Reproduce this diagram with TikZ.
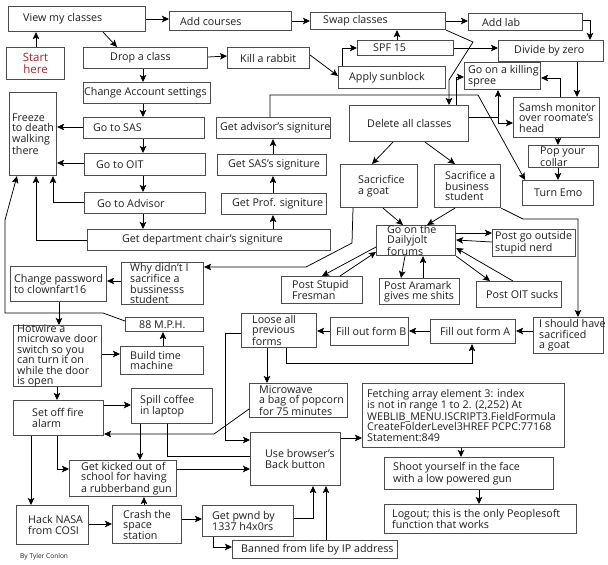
\documentclass[tikz,border=0pt]{standalone}
\usepackage{fontspec}
\setmainfont{Open Sans}
\usetikzlibrary{arrows.meta}
\definecolor{startred}{RGB}{175,32,38}
\tikzset{
  box/.style={draw=black!70, line width=1.1pt, fill=white, inner sep=0pt, rectangle},
  txt/.style={inner sep=0pt, align=left, font=\fontsize{10.7}{10.5}\selectfont, text=black!88},
  arr/.style={draw=black, line width=0.75pt, -{Stealth[length=7pt,width=6.5pt,inset=1.5pt]}},
  ln/.style={draw=black, line width=0.75pt},
}
\newcommand\bx[7]{%
  \pgfmathsetmacro\bxw{#4-#2}\pgfmathsetmacro\bxh{#5-#3}%
  \node[box,minimum width=\bxw pt,minimum height=\bxh pt,anchor=north west] (#1) at (#2,#3) {};%
  \node[txt,anchor=west] (#1-t) at ([xshift=#6pt]#1.west) {#7};}
\begin{document}
\begin{tikzpicture}[x=1pt,y=-1pt]
\useasboundingbox (0,0) rectangle (608,565);
\fill[white] (0,0) rectangle (608,565);
% boxes
\bx{view}{8}{6}{145}{31}{15}{View my classes}
\node[box,minimum width=58pt,minimum height=32pt,anchor=north west] (start) at (6,47) {};
\node[txt,align=center,text=startred,font=\fontsize{11.5}{12}\selectfont] (start-t) at (start.center) {Start\\here};
\bx{addc}{169}{11}{291}{30}{11}{Add courses}
\bx{swap}{310}{12}{445}{29}{13}{Swap classes}
\bx{addlab}{468}{13}{582}{30}{14}{Add lab}
\bx{drop}{83}{47}{207}{68}{27}{Drop a class}
\bx{kill}{227}{47}{309}{68}{13}{Kill a rabbit}
\bx{spf}{357}{40}{453}{55}{16}{SPF 15}
\bx{divide}{498}{40}{603}{61}{16}{Divide by zero}
\bx{apply}{338}{66}{445}{88}{11}{Apply sunblock}
\bx{change}{83}{82}{210}{103}{1}{Change Account settings}
\bx{freeze}{9}{92}{56}{175}{3}{Freeze\\to death\\walking\\there}
\bx{sas}{83}{117}{204}{138}{10}{Go to SAS}
\bx{oit}{84}{153}{205}{175}{12}{Go to OIT}
\bx{adv}{84}{192}{205}{213}{13}{Go to Advisor}
\bx{dept}{87}{229}{330}{250}{35}{Get department chair's signiture}
\bx{advsig}{216}{117}{330}{138}{4}{Get advisor's signiture}
\bx{sassig}{217}{154}{326}{175}{11}{Get SAS's signiture}
\bx{prof}{221}{193}{326}{214}{11}{Get Prof. signiture}
\bx{delete}{349}{105}{468}{141}{18}{Delete all classes}
\bx{spree}{464}{62}{540}{89}{4}{Go on a killing\\spree}
\bx{samsh}{513}{97}{599}{137}{6}{Samsh monitor\\over roomate's\\head}
\bx{pop}{528}{145}{598}{167}{12}{Pop your\\collar}
\bx{emo}{522}{180}{593}{205}{12}{Turn Emo}
\bx{goat}{340}{164}{417}{207}{18}{Sacricfice\\a goat}
\bx{biz}{434}{164}{500}{207}{11}{Sacrifice a\\business\\student}
\bx{jolt}{376}{225}{455}{255}{11}{Go on the\\Dailyjolt\\forums}
\bx{nerd}{492}{229}{575}{256}{3}{Post go outside\\stupid nerd}
\bx{fresh}{281}{276}{362}{303}{11}{Post Stupid\\Fresman}
\bx{aram}{379}{278}{459}{304}{5}{Post Aramark\\gives me shits}
\bx{oitsucks}{476}{281}{561}{307}{10}{Post OIT sucks}
\bx{why}{121}{262}{203}{304}{9}{Why didn't I\\sacrifice a\\bussinesss\\student}
\bx{pwd}{10}{266}{106}{301}{4}{Change password\\to clownfart16}
\bx{mph}{125}{317}{203}{331}{14}{88 M.P.H.}
\bx{hot}{13}{325}{101}{386}{4}{Hotwire a\\microwave door\\switch so you\\can turn it on\\while the door\\is open}
\bx{build}{120}{346}{203}{374}{10}{Build time\\machine}
\bx{should}{533}{317}{603}{353}{6}{I should have\\sacrificed\\a goat}
\bx{forma}{430}{319}{515}{343}{10}{Fill out form A}
\bx{formb}{330}{317}{408}{345}{6}{Fill out form B}
\bx{loose}{241}{313}{316}{347}{11}{Loose all\\previous\\forms}
\bx{micro}{249}{383}{347}{417}{10}{Microwave\\a bag of popcorn\\for 75 minutes}
\bx{alarm}{13}{400}{103}{435}{19}{Set off fire\\alarm}
\bx{spill}{131}{388}{212}{423}{9}{Spill coffee\\in laptop}
\bx{kicked}{69}{460}{176}{496}{12}{Get kicked out of\\school for having\\a rubberband gun}
\bx{browser}{250}{432}{340}{485}{15}{Use browser's\\Back button}
\bx{fetch}{362}{383}{564}{447}{5}{Fetching array element 3: index\\is not in range 1 to 2. (2,252) At\\WEBLIB\_MENU.ISCRIPT3.FieldFormula\\CreateFolderLevel3HREF PCPC:77168\\Statement:849}
\bx{shoot}{384}{457}{553}{489}{9}{Shoot yourself in the face\\with a low powered gun}
\bx{logout}{384}{504}{576}{533}{8}{Logout; this is the only Peoplesoft\\function that works}
\bx{nasa}{16}{505}{88}{544}{12}{Hack NASA\\from COSI}
\bx{crash}{112}{505}{181}{543}{11}{Crash the\\space\\station}
\bx{pwnd}{202}{505}{293}{536}{10}{Get pwnd by\\1337 h4x0rs}
\bx{banned}{232}{540}{397}{558}{9}{Banned from life by IP address}
\node[txt,anchor=west,font=\fontsize{6.6}{8}\selectfont] (credit) at (20,557) {By Tyler Conlon};
% connectors
\draw[arr] (view.east |- 0,19) -- (addc.west |- 0,19);
\draw[arr] (view.south -| 103,0) -- (drop.north -| 117,0);
\draw[arr] (start.north -| 36,0) -- (view.south -| 36,0);
\draw[arr] (addc.east |- 0,21) -- (swap.west |- 0,21);
\draw[arr] (swap.east |- 0,21) -- (addlab.west |- 0,21);
\draw[arr] (addlab.east |- 0,20) -- (590,20) -- (divide.north -| 590,0);
\draw[arr] (drop.east |- 0,57) -- (kill.west |- 0,56);
\draw[arr] (kill.east |- 0,55) -- (apply.west |- 0,76);
\draw[arr] (apply.north -| 342,0) -- (342,48) -- (spf.west |- 0,48);
\draw[arr] (spf.north -| 397,0) -- (swap.south -| 397,0);
\draw[arr] (spf.east |- 0,48) -- (divide.west |- 0,48);
\draw[arr] (swap.south east) -- (473,42) -- (449,80) -- (delete.north -| 449,0);
\draw[arr] (delete.north -| 456,0) -- (456,77) -- (spree.west |- 0,77);
\draw[arr] (delete.east |- 0,117) -- (498,117) -- (spree.south -| 498,0);
\draw[arr] (498,117) -- (498,123) -- (samsh.west |- 0,123);
\draw[arr] (divide.south -| 577,0) -- (samsh.north -| 577,0);
\draw[arr] (samsh.north -| 560,0) -- (560,78) -- (spree.east |- 0,78);
\draw[arr] (samsh.south -| 558,0) -- (pop.north -| 558,0);
\draw[arr] (pop.south -| 558,0) -- (emo.north -| 558,0);
\draw[arr] (advsig.north -| 270,0) -- (270,95) -- (478,95) -- (emo.north -| 525,0);
\draw[arr] (delete.south -| 393,0) -- (goat.north -| 372,0);
\draw[arr] (delete.south -| 425,0) -- (biz.north -| 455,0);
\draw[arr] (goat.south -| 383,0) -- (jolt.north -| 403,0);
\draw[arr] (biz.south -| 455,0) -- (jolt.north -| 427,0);
\draw[arr] (biz.south east) -- (523,219) -- (578,219) -- (should.north -| 578,0);
\draw[arr] (goat.south -| 353,0) -- (352,243) -- (306,267) -- (why.east |- 0,267);
\draw[arr] (jolt.east |- 0,233) -- (nerd.west |- 0,233);
\draw[arr] (nerd.west |- 0,242) -- (jolt.east |- 0,240);
\draw[arr] (jolt.south east) -- (oitsucks.north -| 490,0);
\draw[arr] (oitsucks.north -| 513,0) -- (jolt.east |- 0,248);
\draw[arr] (jolt.south -| 405,0) -- (aram.north -| 401,0);
\draw[arr] (aram.north -| 423,0) -- (jolt.south -| 423,0);
\draw[arr] (jolt.west |- 0,247) -- (fresh.north -| 322,0);
\draw[arr] (fresh.north -| 340,0) -- (jolt.west |- 0,252);
\draw[arr] (why.west |- 0,281) -- (pwd.east |- 0,281);
\draw[arr] (pwd.south -| 59,0) -- (hot.north -| 59,0);
\draw[arr] (mph.west |- 0,321) -- (103,313) -- (5,313) -- (5,220) -- (freeze.south -| 17,0);
\draw[arr] (dept.west |- 0,240) -- (36,240) -- (freeze.south -| 36,0);
\draw[arr] (adv.west |- 0,202) -- (53,202) -- (freeze.south -| 53,0);
\draw[arr] (sas.west |- 0,127) -- (freeze.east |- 0,127);
\draw[arr] (oit.west |- 0,163) -- (freeze.east |- 0,163);
\draw[arr] (drop.south -| 143,0) -- (change.north -| 143,0);
\draw[arr] (change.south -| 143,0) -- (sas.north -| 143,0);
\draw[arr] (sas.south -| 143,0) -- (oit.north -| 143,0);
\draw[arr] (oit.south -| 143,0) -- (adv.north -| 143,0);
\draw[arr] (adv.south -| 143,0) -- (dept.north -| 143,0);
\draw[arr] (dept.north -| 273,0) -- (prof.south -| 273,0);
\draw[arr] (prof.north -| 273,0) -- (sassig.south -| 273,0);
\draw[arr] (sassig.north -| 273,0) -- (advsig.south -| 273,0);
\draw[arr] (hot.east |- 0,354) -- (build.west |- 0,354);
\draw[arr] (build.north -| 163,0) -- (mph.south -| 163,0);
\draw[arr] (hot.south -| 57,0) -- (alarm.north -| 57,0);
\draw[arr] (alarm.east |- 0,405) -- (spill.west |- 0,405);
\draw[arr] (micro.west |- 0,409) -- (214,434) -- (alarm.east |- 0,434);
\draw[arr] (alarm.south -| 31,0) -- (nasa.north -| 31,0);
\draw[arr] (alarm.south -| 57,0) -- (57,469) -- (kicked.west |- 0,469);
\draw[arr] (spill.south -| 140,0) -- (kicked.north -| 140,0);
\draw[ln] (spill.south -| 167,0) -- (167,456) -- (browser.west |- 0,456);
\draw[arr] (kicked.east |- 0,469) -- (browser.west |- 0,469);
\draw[arr] (loose.west |- 0,333) -- (225,333) -- (225,440) -- (browser.west |- 0,440);
\draw[arr] (nasa.east |- 0,524) -- (crash.west |- 0,524);
\draw[arr] (crash.north -| 144,0) -- (kicked.south -| 144,0);
\draw[arr] (crash.east |- 0,519) -- (pwnd.west |- 0,519);
\draw[arr] (pwnd.east |- 0,518) -- (313,518) -- (browser.south -| 313,0);
\draw[arr] (pwnd.south -| 213,0) -- (213,547) -- (banned.west |- 0,547);
\draw[arr] (banned.north -| 326,0) -- (browser.south -| 326,0);
\draw[arr] (browser.east |- 0,438) -- (fetch.west |- 0,438);
\draw[arr] (fetch.south -| 461,0) -- (shoot.north -| 461,0);
\draw[arr] (shoot.south -| 479,0) -- (logout.north -| 479,0);
\draw[arr] (should.west |- 0,331) -- (forma.east |- 0,331);
\draw[arr] (forma.west |- 0,331) -- (formb.east |- 0,331);
\draw[arr] (formb.west |- 0,331) -- (loose.east |- 0,331);
\draw[arr] (loose.south -| 286,0) -- (286,363) -- (472,363) -- (forma.south -| 472,0);
\draw[arr] (loose.south -| 267,0) -- (micro.north -| 267,0);
\end{tikzpicture}
\end{document}
